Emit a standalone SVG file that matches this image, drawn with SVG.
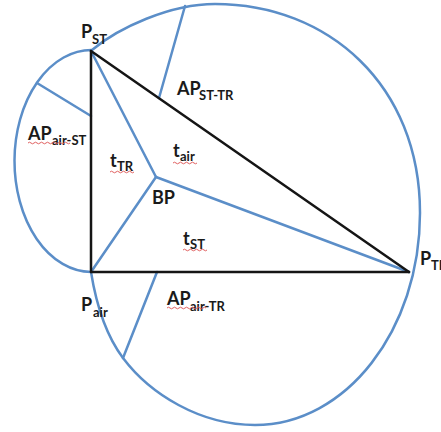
<svg xmlns="http://www.w3.org/2000/svg" width="441" height="432" viewBox="0 0 441 432">
<style>
.blue{fill:none;stroke:#5b8ec8;stroke-width:2.5;stroke-linecap:round;stroke-linejoin:round}
.black{fill:none;stroke:#151515;stroke-width:2.5;stroke-linecap:round}
.lbl{font-family:Lato,"Open Sans","Liberation Sans",sans-serif;font-weight:700;fill:#1a1a1a}
.m{font-size:18px}
.s{font-size:13px}
.sq{fill:none;stroke:#e06060;stroke-width:1}
</style>
<rect width="441" height="432" fill="#ffffff"/>
<g id="outline">
<path class="blue" d="M 92 50 C 118 28 170 4 215 4 C 328 4 420 85 420 213 C 420 330 346 425 255 425 C 200 425 150 394 123 358 C 105 334 96 303 91 272 A 77 111 0 0 1 92 50 Z"/>
</g>
<g id="connectors">
<line class="blue" x1="156" y1="177" x2="91" y2="51"/>
<line class="blue" x1="156" y1="177" x2="91" y2="272"/>
<line class="blue" x1="156" y1="177" x2="409" y2="272"/>
<line class="blue" x1="159" y1="98" x2="185" y2="6"/>
<line class="blue" x1="91" y1="116" x2="37" y2="83"/>
<line class="blue" x1="157" y1="272" x2="123" y2="358"/>
<line class="black" x1="91" y1="51" x2="91" y2="272"/>
<line class="black" x1="91" y1="272" x2="409" y2="272"/>
<line class="black" x1="91" y1="51" x2="409" y2="272"/>
</g>
<g id="P_ST"><text class="lbl m" x="81" y="38">P</text><text class="lbl s" x="92" y="44">ST</text></g>
<g id="P_TR"><text class="lbl m" x="420" y="265">P</text><text class="lbl s" x="431" y="270">TR</text></g>
<g id="P_air"><text class="lbl m" x="81" y="311">P</text><text class="lbl s" x="93" y="317">air</text></g>
<g id="BP"><text class="lbl m" x="152" y="204">BP</text></g>
<g id="AP_ST-TR"><text class="lbl m" x="177" y="95">AP</text><text class="lbl s" x="199" y="100">ST-TR</text></g>
<g id="AP_air-ST"><text class="lbl m" x="28" y="140">AP</text><text class="lbl s" x="52" y="145">air-ST</text><path class="sq" d="M 28 143 q 1.5 -1.6 3 0 t 3 0 t 3 0 t 3 0 t 3 0 t 3 0 t 3 0 t 3 0 t 3 0 t 3 0 t 3 0 t 3 0 t 3 0 t 3 0"/></g>
<g id="AP_air-TR"><text class="lbl m" x="167" y="305">AP</text><text class="lbl s" x="190" y="311">air-TR</text><path class="sq" d="M 167 308 q 1.5 -1.6 3 0 t 3 0 t 3 0 t 3 0 t 3 0 t 3 0 t 3 0 t 3 0 t 3 0 t 3 0 t 3 0 t 3 0 t 3 0"/></g>
<g id="t_TR"><text class="lbl m" x="110" y="167">t</text><text class="lbl s" x="117" y="171">TR</text><path class="sq" d="M 110 172 q 1.5 -1.6 3 0 t 3 0 t 3 0 t 3 0 t 3 0 t 3 0 t 3 0 t 3 0"/></g>
<g id="t_air"><text class="lbl m" x="173" y="157">t</text><text class="lbl s" x="180" y="161">air</text><path class="sq" d="M 173 163 q 1.5 -1.6 3 0 t 3 0 t 3 0 t 3 0 t 3 0 t 3 0 t 3 0 t 3 0"/></g>
<g id="t_ST"><text class="lbl m" x="183" y="245">t</text><text class="lbl s" x="190" y="249">ST</text><path class="sq" d="M 183 250 q 1.5 -1.6 3 0 t 3 0 t 3 0 t 3 0 t 3 0 t 3 0 t 3 0 t 3 0"/></g>
</svg>
